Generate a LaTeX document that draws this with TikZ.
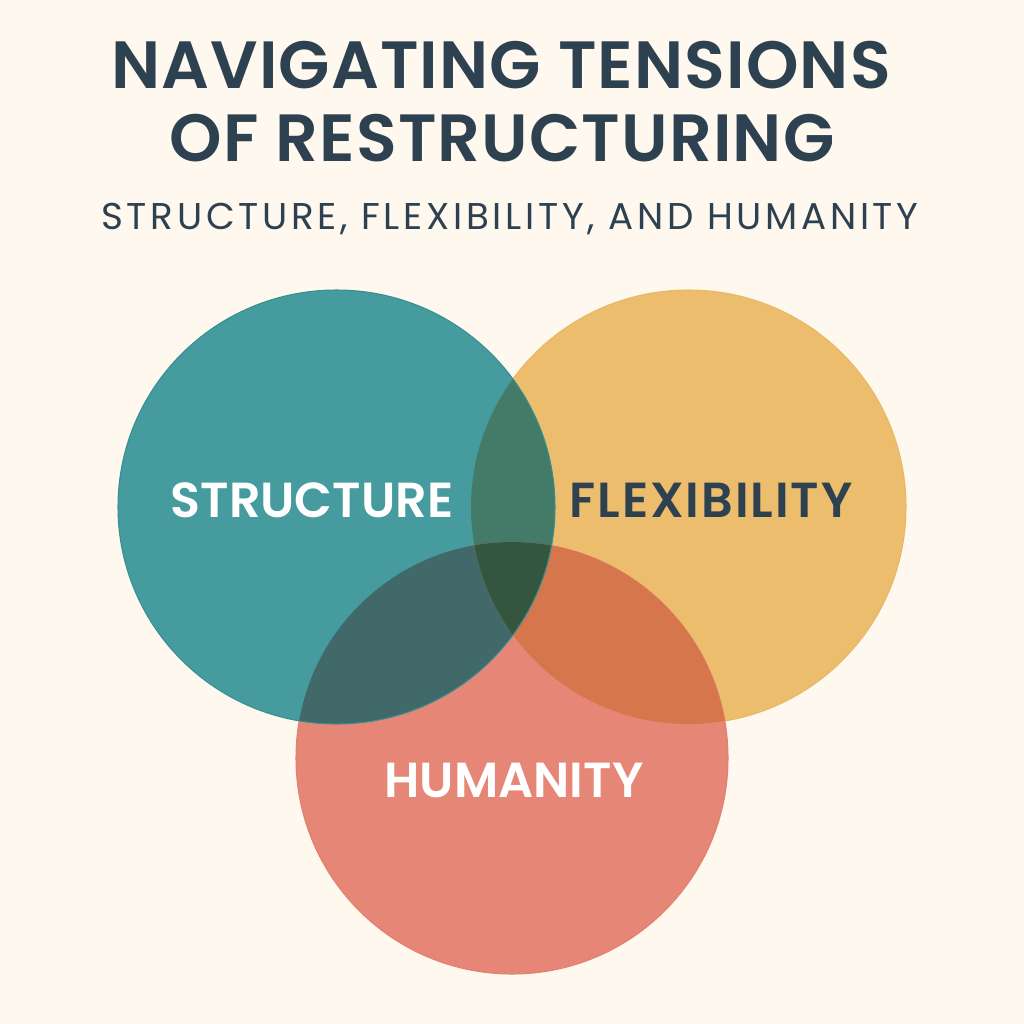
\documentclass[tikz,border=0pt]{standalone}
\usepackage{fontspec}
\setmainfont{Poppins}[BoldFont={Poppins SemiBold}]
\newfontfamily\spacedfont{Poppins}[LetterSpace=9.9]
\newfontfamily\titlefont{Poppins SemiBold}[LetterSpace=1.7]
\newfontfamily\wideboldfont{Poppins SemiBold}[LetterSpace=3.9]
\usetikzlibrary{positioning}
\definecolor{paper}{HTML}{FEF8EE}
\definecolor{ink}{HTML}{2E4150}
\definecolor{tealc}{HTML}{459B9E}
\definecolor{tealedge}{HTML}{368F93}
\definecolor{amberc}{HTML}{EBBD6C}
\definecolor{amberedge}{HTML}{E8B965}
\definecolor{coralc}{HTML}{E68677}
\definecolor{coraledge}{HTML}{E27F70}
\definecolor{tealamber}{HTML}{437B68}
\definecolor{tealcoral}{HTML}{41696A}
\definecolor{ambercoral}{HTML}{D6764C}
\definecolor{allthree}{HTML}{34563F}
\tikzset{
	title/.style={text=ink,font=\fontsize{19}{19}\titlefont,inner sep=0pt,anchor=base},
	subtitle/.style={text=ink,font=\fontsize{10.6}{11}\spacedfont,inner sep=0pt,anchor=base},
	tag/.style={font=\fontsize{14}{15}\selectfont\bfseries,inner sep=0pt,anchor=base}
}
\begin{document}
\begin{tikzpicture}[x=0.01cm,y=-0.01cm]
	\useasboundingbox (0,0) rectangle (1024,1024);
	\fill[paper] (0,0) rectangle (1024,1024);
	\fill[amberc] (688.5,507) circle [x radius=217.5,y radius=217];
	\draw[amberedge,line width=0.3pt] (688.5,507) circle [x radius=217.5,y radius=217];
	\fill[coralc] (512,758) circle (216);
	\draw[coraledge,line width=0.3pt] (512,758) circle (216);
	\fill[tealc] (336.5,507) circle [x radius=218.5,y radius=217];
	\begin{scope}
		\clip (336.5,507) circle [x radius=218.5,y radius=217];
		\fill[tealamber] (688.5,507) circle [x radius=217.5,y radius=217];
		\fill[tealcoral] (512,758) circle (216);
	\end{scope}
	\begin{scope}
		\clip (688.5,507) circle [x radius=217.5,y radius=217];
		\fill[ambercoral] (512,758) circle (216);
		\clip (336.5,507) circle [x radius=218.5,y radius=217];
		\fill[allthree] (512,758) circle (216);
	\end{scope}
	\draw[tealedge,line width=0.3pt] (336.5,507) circle [x radius=218.5,y radius=217];
	\node[title] (line1) at (501,88) {NAVIGATING TENSIONS};
	\node[title] (line2) at (502,161) {OF RESTRUCTURING};
	\node[subtitle] (sub) at (510,229) {STRUCTURE, FLEXIBILITY, AND HUMANITY};
	\node[tag,text=white] (structure) at (312,517) {STRUCTURE};
	\node[tag,text=ink,font=\fontsize{14}{15}\wideboldfont] (flexibility) at (711,517) {FLEXIBILITY};
	\node[tag,text=white] (humanity) at (514,797) {HUMANITY};
\end{tikzpicture}
\end{document}
